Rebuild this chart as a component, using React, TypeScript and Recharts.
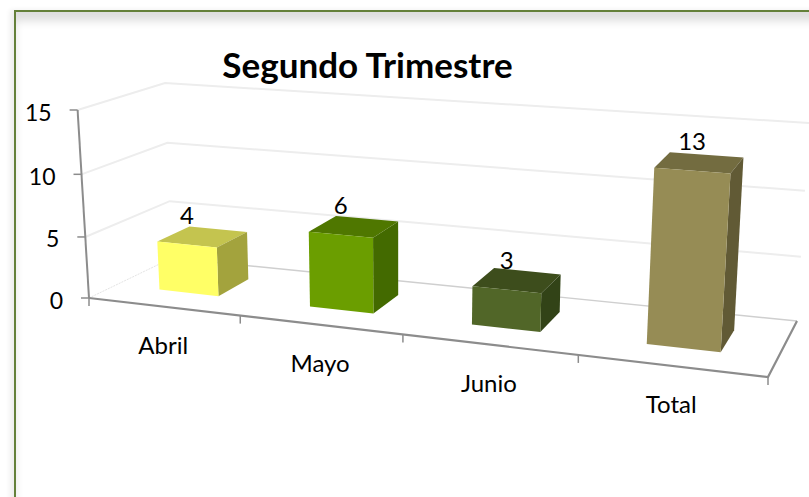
import { Bar, BarChart, CartesianGrid, Customized, LabelList, XAxis, YAxis } from "recharts";

const categories = ["Abril", "Mayo", "Junio", "Total"];
const amounts = [4, 6, 3, 13];
const valueTicks = [0, 5, 10, 15];

const FRONT_COLORS = ["#FFFF66", "#6B9E00", "#516628", "#968C55"];
const TOP_COLORS = ["#C4C44F", "#4F7700", "#3D4D1C", "#736C40"];
const SIDE_COLORS = ["#A3A33D", "#436A00", "#324317", "#615A35"];

const data = categories.map((name, i) => ({ name, value: amounts[i] }));

const WIDTH = 809;
const HEIGHT = 497;
const PAD = 40;
const PLOT_W = WIDTH - PAD * 2;
const PLOT_H = HEIGHT - PAD * 2;
const FONT = "Lato, 'Open Sans', sans-serif";

// Excel's 3D box, as seen on screen: [front|back][left|right], floor and ceiling
type Pt = [number, number];
const FLOOR = { fl: [89, 298] as Pt, fr: [768, 377] as Pt, bl: [172, 258] as Pt, br: [797, 321] as Pt };
const CEIL = { fl: [77.6, 110] as Pt, fr: [782, 162] as Pt, bl: [165, 83] as Pt, br: [809, 123] as Pt };
const BAR_FRONT = 0.33;
const BAR_BACK = 0.73;

const lerp = (a: Pt, b: Pt, f: number): Pt => [a[0] + (b[0] - a[0]) * f, a[1] + (b[1] - a[1]) * f];
const warp = (f: number, k: number) => f / (f + k * (1 - f));

// u: along categories, t: along values, w: into the depth; all 0..1
function project(u: number, t: number, w: number): Pt {
  const fu = warp(u, 1.163);
  const ft = warp(t, 1.04);
  const floor = lerp(lerp(FLOOR.fl, FLOOR.fr, fu), lerp(FLOOR.bl, FLOOR.br, fu), w);
  const ceil = lerp(lerp(CEIL.fl, CEIL.fr, fu), lerp(CEIL.bl, CEIL.br, fu), w);
  return lerp(floor, ceil, ft);
}

const toU = (x: number) => (x - PAD) / PLOT_W;
const toT = (y: number) => (PAD + PLOT_H - y) / PLOT_H;
const poly = (pts: Pt[]) => pts.map((p) => `${p[0]},${p[1]}`).join(" ");

function Box3D(props: any) {
  const { x, y, width, index } = props;
  const u0 = toU(x);
  const u1 = toU(x + width);
  const t = toT(y);
  return (
    <g>
      <polygon
        fill={TOP_COLORS[index]}
        points={poly([project(u0, t, BAR_FRONT), project(u1, t, BAR_FRONT), project(u1, t, BAR_BACK), project(u0, t, BAR_BACK)])}
      />
      <polygon
        fill={SIDE_COLORS[index]}
        points={poly([project(u1, 0, BAR_FRONT), project(u1, t, BAR_FRONT), project(u1, t, BAR_BACK), project(u1, 0, BAR_BACK)])}
      />
      <polygon
        fill={FRONT_COLORS[index]}
        points={poly([project(u0, 0, BAR_FRONT), project(u1, 0, BAR_FRONT), project(u1, t, BAR_FRONT), project(u0, t, BAR_FRONT)])}
      />
    </g>
  );
}

function ValueLabel(props: any) {
  const { x, y, width, value } = props;
  const [px, py] = project(toU(x + width / 2), toT(y), BAR_FRONT);
  return (
    <text x={px} y={py - 30} textAnchor="middle" dominantBaseline="central" fontFamily={FONT} fontSize={24} fill="#000">
      {value}
    </text>
  );
}

function CategoryTick(props: any) {
  const { payload } = props;
  const [px, py] = project(toU(payload.coordinate), 0, 0);
  return (
    <text x={px} y={py + 38} textAnchor="middle" dominantBaseline="central" fontFamily={FONT} fontSize={24} fill="#000">
      {payload.value}
    </text>
  );
}

function ValueTick(props: any) {
  const { payload } = props;
  const [px, py] = project(0, toT(payload.coordinate), 0);
  return (
    <g>
      <line x1={px - 8} y1={py} x2={px} y2={py} stroke="#8C8C8C" strokeWidth={1.5} />
      <text x={px - 26} y={py + 1.5} textAnchor="end" dominantBaseline="central" fontFamily={FONT} fontSize={23} fill="#000">
        {payload.value}
      </text>
    </g>
  );
}

function WallLine(props: any) {
  const t = toT(props.y1);
  if (t < 0.001) {
    return (
      <g key={props.key}>
        <polyline points={poly([project(0, 0, 0), project(0, 0, 1)])} fill="none" stroke="#E4E4E4" strokeWidth={1} strokeDasharray="2 1" />
        <polyline points={poly([project(0, 0, 1), project(1, 0, 1)])} fill="none" stroke="#CFCFCF" strokeWidth={1.4} />
      </g>
    );
  }
  const pts = poly([project(0, t, 0), project(0, t, 1), project(1, t, 1)]);
  return <polyline key={props.key} points={pts} fill="none" stroke="#EDEDED" strokeWidth={2} />;
}

function Frame() {
  const frontAxis = poly([project(0, 0, 0), project(1, 0, 0), project(1, 0, 1)]);
  const valueAxis = poly([project(0, 1, 0), project(0, 0, 0)]);
  return (
    <g>
      <polyline points={valueAxis} fill="none" stroke="#8C8C8C" strokeWidth={2} />
      <polyline points={frontAxis} fill="none" stroke="#8C8C8C" strokeWidth={2.2} />
      {[0, 0.25, 0.5, 0.75, 1].map((u) => {
        const [px, py] = project(u, 0, 0);
        return <line key={u} x1={px} y1={py} x2={px} y2={py + 8} stroke="#8C8C8C" strokeWidth={1.5} />;
      })}
      <text x={367.5} y={64} textAnchor="middle" dominantBaseline="central" fontFamily={FONT} fontWeight={700} fontSize={35} fill="#000">
        Segundo Trimestre
      </text>
    </g>
  );
}

export default function App() {
  return (
    <div style={{ position: "absolute", left: 0, top: 0, width: WIDTH, height: HEIGHT, overflow: "hidden", background: "#fff" }}>
      <div
        style={{
          position: "absolute",
          left: 14,
          top: 10,
          width: 900,
          height: 700,
          boxSizing: "border-box",
          border: "2px solid #64803A",
          boxShadow: "-4px 0 5px #eeeeee, inset 3px 13px 9px -4px #dedede",
        }}
      />
      <div style={{ position: "absolute", left: 0, top: 0 }}>
        <BarChart
          width={WIDTH}
          height={HEIGHT}
          data={data}
          barCategoryGap="30%"
          margin={{ top: PAD, right: PAD, bottom: PAD - 1, left: PAD - 1 }}
        >
          <CartesianGrid vertical={false} horizontal={WallLine} />
          <XAxis dataKey="name" height={1} axisLine={false} tickLine={false} tick={CategoryTick} interval={0} />
          <YAxis width={1} domain={[0, 15]} ticks={valueTicks} axisLine={false} tickLine={false} tick={ValueTick} />
          <Customized component={Frame} />
          <Bar dataKey="value" shape={Box3D} isAnimationActive={false}>
            <LabelList dataKey="value" content={ValueLabel} />
          </Bar>
        </BarChart>
      </div>
    </div>
  );
}
